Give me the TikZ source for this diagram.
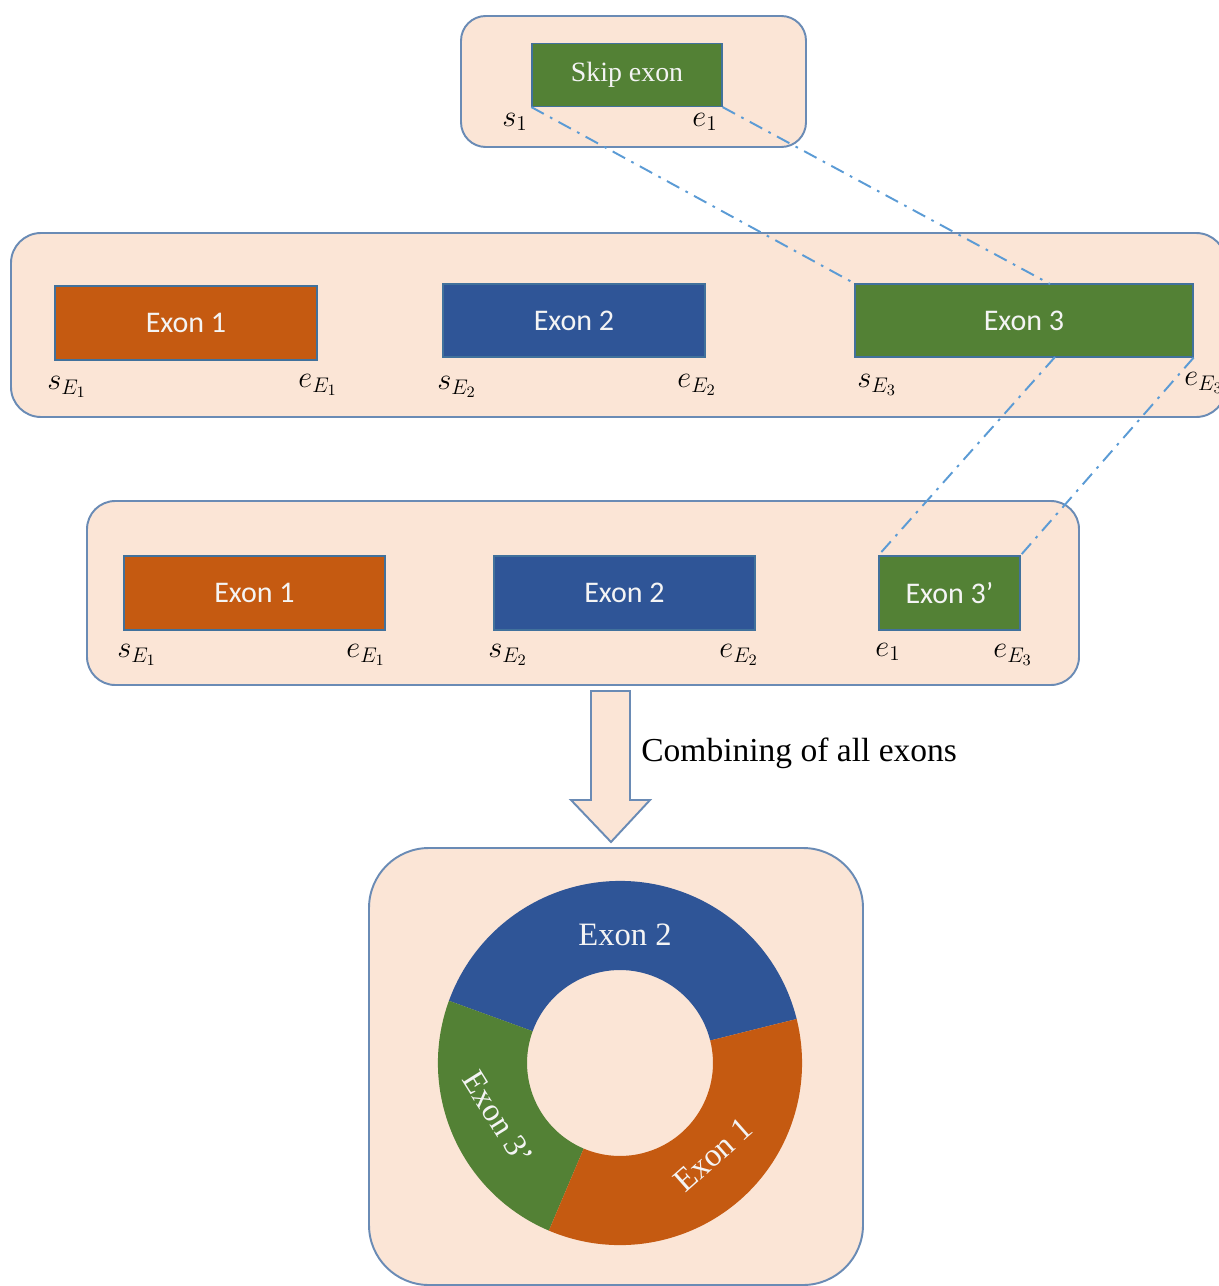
\documentclass[tikz,border=0pt]{standalone}
\usepackage{fontspec}
\setmainfont{Liberation Serif}
\newfontfamily\calibfont{Carlito}
\usetikzlibrary{calc}

\definecolor{peach}{HTML}{FBE5D6}
\definecolor{panelline}{HTML}{6A8BB5}
\definecolor{boxline}{HTML}{41719C}
\definecolor{exorange}{HTML}{C55A11}
\definecolor{exblue}{HTML}{2F5597}
\definecolor{exgreen}{HTML}{538135}
\definecolor{linkblue}{HTML}{5B9BD5}
\definecolor{lighttext}{HTML}{F4F4F4}

\tikzset{
  panel/.style={draw=panelline, line width=1.1pt, fill=peach},
  exonbox/.style={draw=boxline, line width=0.7pt, inner sep=0pt, text=lighttext,
    font=\calibfont\fontsize{17}{20}\selectfont},
  pos label/.style={inner sep=0pt, font=\fontsize{18}{21}\selectfont},
  link/.style={draw=linkblue, line width=1.1pt,
    dash pattern=on 8pt off 4pt on 1.5pt off 4pt},
  blockarrow/.style={draw=panelline, line width=1.1pt, fill=peach, line join=miter},
  ringtext/.style={text=lighttext, inner sep=0pt, font=\fontsize{18.5}{22}\selectfont},
}

\begin{document}
\begin{tikzpicture}[x=0.5669pt, y=-0.5669pt]
\useasboundingbox (0,0) rectangle (1219,1286);
\clip (0,0) rectangle (1219,1286);

% panels
\draw[panel, rounded corners=14pt] (461,16) rectangle (806,147);
\draw[panel, rounded corners=17pt] (11,233) rectangle (1226,417);
\draw[panel, rounded corners=16pt] (87,501) rectangle (1079,685);
\draw[panel, rounded corners=34pt] (369,848) rectangle (863,1285);

% skipped exon
\node[exonbox, fill=exgreen, minimum width=107.7pt, minimum height=35.7pt,
  font=\fontsize{15.8}{19}\selectfont] (skip) at (627,75) {Skip exon};
\node[pos label] (s1) at (515,122) {$s_1$};
\node[pos label] (e1) at (705,122) {$e_1$};

% original exons
\node[exonbox, fill=exorange, minimum width=148.5pt, minimum height=42pt] (ea) at (186,323) {Exon 1};
\node[exonbox, fill=exblue, minimum width=148.5pt, minimum height=41.4pt] (eb) at (574,320.5) {Exon 2};
\node[exonbox, fill=exgreen, minimum width=191.6pt, minimum height=41.4pt] (ec) at (1024,320.5) {Exon 3};
\node[pos label] (sa) at (67,387) {$s_{E_1}$};
\node[pos label] (ta) at (318,385) {$e_{E_1}$};
\node[pos label] (sb) at (457,387) {$s_{E_2}$};
\node[pos label] (tb) at (697,385) {$e_{E_2}$};
\node[pos label] (sc) at (877,385) {$s_{E_3}$};
\node[pos label, anchor=west] (tc) at (1184,383) {$e_{E_3}$};

% exons after skipping
\node[exonbox, fill=exorange, minimum width=148pt, minimum height=42pt] (fa) at (254.5,593) {Exon 1};
\node[exonbox, fill=exblue, minimum width=148pt, minimum height=42pt] (fb) at (624.5,593) {Exon 2};
\node[exonbox, fill=exgreen, minimum width=79.9pt, minimum height=42pt] (fc) at (949.5,593) {Exon 3’};
\node[pos label] (ua) at (137,655) {$s_{E_1}$};
\node[pos label] (va) at (366,655) {$e_{E_1}$};
\node[pos label] (ub) at (508,655) {$s_{E_2}$};
\node[pos label] (vb) at (739,655) {$e_{E_2}$};
\node[pos label] (uc) at (888,652) {$e_1$};
\node[pos label] (vc) at (1013,655) {$e_{E_3}$};

% skip boundaries projected onto exon 3
\coordinate (ecin) at (1050,284);
\coordinate (ecout) at (1055,357);
\draw[link] (skip.south west) -- (ec.north west);
\draw[link] (skip.south east) -- (ecin);
\draw[link] (ecout) -- (fc.north west);
\draw[link] (ec.south east) -- (fc.north east);

% combining arrow
\draw[blockarrow] (591,691) -- (630,691) -- (630,800) -- (650,800) -- (611,842)
  -- (571,800) -- (591,800) -- cycle;
\node[anchor=west, inner sep=0pt, font=\fontsize{19}{23}\selectfont] (comb) at (641,753)
  {Combining of all exons};

% circular transcript
\coordinate (ring) at (620,1063);
\fill[exblue] ($(ring)+(14:103.2pt)$) arc[start angle=14, end angle=160, radius=103.2pt]
  -- ($(ring)+(160:52.7pt)$) arc[start angle=160, end angle=14, radius=52.7pt] -- cycle;
\fill[exgreen] ($(ring)+(160:103.2pt)$) arc[start angle=160, end angle=247, radius=103.2pt]
  -- ($(ring)+(247:52.7pt)$) arc[start angle=247, end angle=160, radius=52.7pt] -- cycle;
\fill[exorange] ($(ring)+(247:103.2pt)$) arc[start angle=247, end angle=374, radius=103.2pt]
  -- ($(ring)+(374:52.7pt)$) arc[start angle=374, end angle=247, radius=52.7pt] -- cycle;
\node[ringtext] (r2) at (625,935) {Exon 2};
\node[ringtext, rotate=-58] (r3) at (498,1118) {Exon 3’};
\node[ringtext, rotate=41.5] (r1) at (713,1155) {Exon 1};
\end{tikzpicture}
\end{document}
